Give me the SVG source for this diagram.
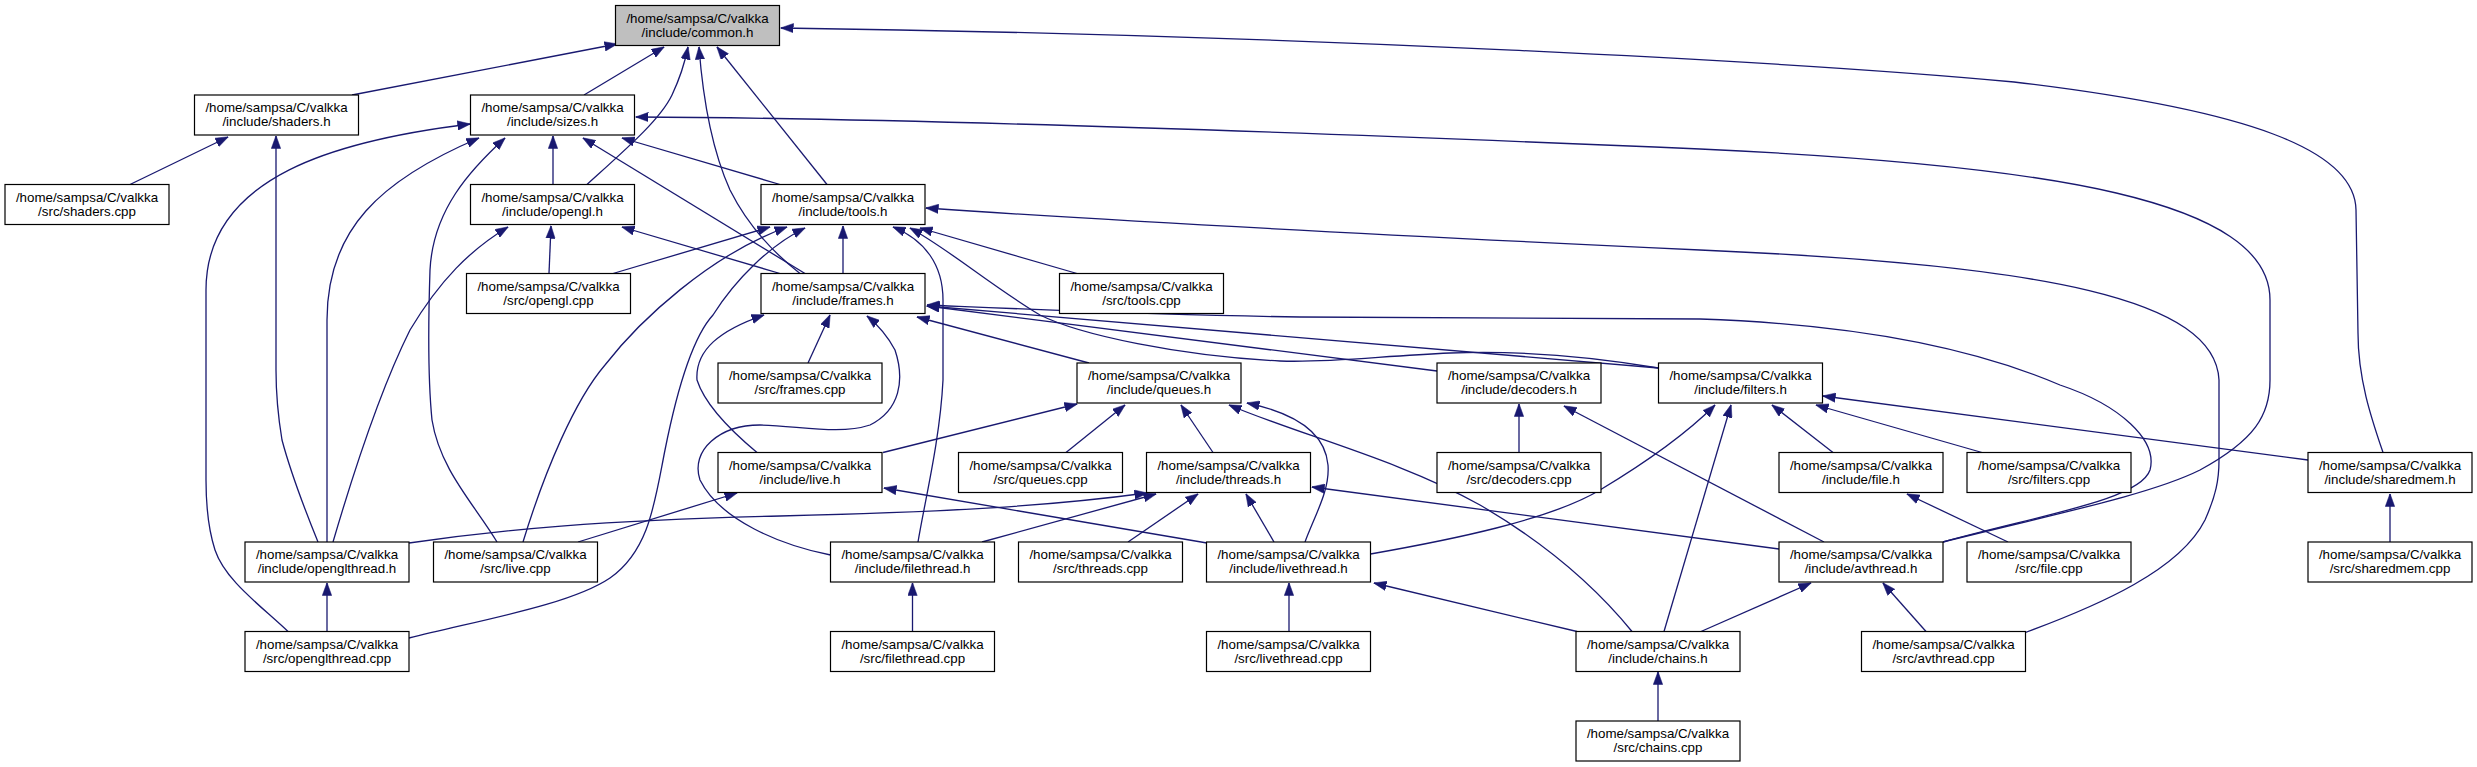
<svg xmlns="http://www.w3.org/2000/svg" width="2477" height="767" viewBox="0 0 2477 767">
<style>
.n rect{fill:#ffffff;stroke:#000000;stroke-width:1.2}
.root rect{fill:#bfbfbf}
.n text{font-family:"Liberation Sans",Arial,sans-serif;font-size:13.33px;fill:#000000;text-anchor:middle}
.e path{fill:none;stroke:#191970;stroke-width:1.3;marker-end:url(#ah)}
</style>
<defs>
<marker id="ah" markerUnits="userSpaceOnUse" markerWidth="13" markerHeight="10" viewBox="0 0 13 9.4" refX="12.5" refY="4.7" orient="auto">
<path d="M0,0 L13,4.7 L0,9.4 z" fill="#191970" stroke="#191970" stroke-width="0.5"/>
</marker>
</defs>
<rect x="0" y="0" width="2477" height="767" fill="#ffffff"/>
<g id="connectors" class="e">
<path d="M352,95 L617,44"/>
<path d="M584,95 L664,47"/>
<path d="M587,184.5 C625,150 660,120 672,95 C680,78 685,62 688,47"/>
<path d="M800,273.5 C770,250 745,220 730,190 C712,150 703,100 699,47"/>
<path d="M827,184.5 L717,47"/>
<path d="M2383,452.5 C2372,420 2358,380 2358,333 L2356,210 C2355,150 2250,110 2014,82 C1800,62 1300,35 781,28"/>
<path d="M553,184.5 L553,136"/>
<path d="M288,631.5 C260,605 225,580 215,550 C207,525 206,500 206,480 L206,290 C206,175 340,140 470,124"/>
<path d="M327,542 L327,320 C327,230 380,180 479,138"/>
<path d="M497,542 C475,505 440,470 432,420 C428,380 428,330 430,270 C433,210 470,170 505,138"/>
<path d="M805,273.5 L583,138"/>
<path d="M780,184.5 L622,138"/>
<path d="M1943,542 C2050,515 2150,495 2200,470 C2255,440 2270,415 2270,380 L2270,300 C2270,200 2050,165 1700,149 C1300,132 900,118 636,117"/>
<path d="M130,184.5 L228,137"/>
<path d="M318,542 C305,510 290,470 282,440 C277,410 276,390 276,370 L276,136"/>
<path d="M549,273.5 L551,226"/>
<path d="M333,542 C360,450 385,380 410,330 C440,280 470,250 508,227"/>
<path d="M780,273.5 L622,227"/>
<path d="M843,273.5 L843,226"/>
<path d="M1077,273.5 L920,228"/>
<path d="M613,273.5 L770,227"/>
<path d="M523,542 C545,470 575,400 605,365 C640,320 710,255 787,227"/>
<path d="M409,638 C480,620 570,605 610,578 C650,550 655,500 665,450 C675,400 690,340 713,315 C735,280 770,245 805,228"/>
<path d="M918,542 C925,500 940,440 943,380 L943,300 C943,265 925,240 893,227"/>
<path d="M2024,633 C2100,605 2180,570 2205,520 C2216,495 2219,480 2219,460 L2219,380 C2215,300 2050,265 1700,250 C1400,236 1100,220 926,208"/>
<path d="M808,363 L830,315"/>
<path d="M1089,363 L917,317"/>
<path d="M1437,371 L927,306"/>
<path d="M1658.5,368 L927,306"/>
<path d="M1943,542 C2040,515 2140,500 2150,470 C2158,440 2120,405 2060,385 C1990,355 1880,325 1700,319 L1300,317 C1150,315 1000,308 927,305"/>
<path d="M757,452.5 C730,430 705,405 697,380 C695,350 720,330 764,315"/>
<path d="M830.5,555 C780,545 720,520 700,480 C690,450 720,425 760,425 C800,426 840,435 870,425 C900,410 905,380 895,350 C887,335 878,325 867,316"/>
<path d="M883,452.5 L1077,404"/>
<path d="M1066,452.5 L1125,405"/>
<path d="M1213,452.5 L1181,405"/>
<path d="M1632,631.5 C1590,580 1540,540 1480,505 C1400,460 1300,435 1229,405"/>
<path d="M1305,542 C1315,515 1330,490 1328,465 C1325,430 1290,412 1247,403"/>
<path d="M409,543 C500,530 600,520 780,516 C950,512 1050,506 1147,493"/>
<path d="M982,542 L1156,494"/>
<path d="M1128,542 L1198,494"/>
<path d="M1274,542 L1246,494"/>
<path d="M1779,549 L1312,487"/>
<path d="M578,542 L737,493"/>
<path d="M1207,543 L884,488"/>
<path d="M1519,452.5 L1519,404"/>
<path d="M1824,542 L1564,406"/>
<path d="M1370.5,554 C1450,540 1550,520 1600,490 C1650,460 1690,430 1715,405"/>
<path d="M1664,631.5 L1731,405"/>
<path d="M1833,452.5 L1772,405"/>
<path d="M1982,452.5 L1816,405"/>
<path d="M2308,460 L1823,396"/>
<path d="M1658.5,368 C1600,358 1530,350 1450,353 C1380,356 1330,363 1280,361 C1180,356 1080,335 1040,315 C990,285 950,250 910,228"/>
<path d="M2008,542 L1907,494"/>
<path d="M2390,542 L2390,494"/>
<path d="M1701,631.5 L1811,583"/>
<path d="M1926,631.5 L1883,583"/>
<path d="M1289,631.5 L1289,583"/>
<path d="M1577,631.5 L1374,583"/>
<path d="M912.5,631.5 L912.5,583"/>
<path d="M1658,721 L1658,672"/>
<path d="M327,631.5 L327,583"/>
</g>
<g id="common_h" class="n root" transform="translate(615.5,5.5)"><rect width="164" height="40"/><text x="82" y="17">/home/sampsa/C/valkka</text><text x="82" y="31">/include/common.h</text></g>
<g id="shaders_h" class="n" transform="translate(194.5,95)"><rect width="164" height="40"/><text x="82" y="17">/home/sampsa/C/valkka</text><text x="82" y="31">/include/shaders.h</text></g>
<g id="sizes_h" class="n" transform="translate(470.5,95)"><rect width="164" height="40"/><text x="82" y="17">/home/sampsa/C/valkka</text><text x="82" y="31">/include/sizes.h</text></g>
<g id="shaders_cpp" class="n" transform="translate(5,184.5)"><rect width="164" height="40"/><text x="82" y="17">/home/sampsa/C/valkka</text><text x="82" y="31">/src/shaders.cpp</text></g>
<g id="opengl_h" class="n" transform="translate(470.5,184.5)"><rect width="164" height="40"/><text x="82" y="17">/home/sampsa/C/valkka</text><text x="82" y="31">/include/opengl.h</text></g>
<g id="tools_h" class="n" transform="translate(761,184.5)"><rect width="164" height="40"/><text x="82" y="17">/home/sampsa/C/valkka</text><text x="82" y="31">/include/tools.h</text></g>
<g id="opengl_cpp" class="n" transform="translate(466.5,273.5)"><rect width="164" height="40"/><text x="82" y="17">/home/sampsa/C/valkka</text><text x="82" y="31">/src/opengl.cpp</text></g>
<g id="frames_h" class="n" transform="translate(761,273.5)"><rect width="164" height="40"/><text x="82" y="17">/home/sampsa/C/valkka</text><text x="82" y="31">/include/frames.h</text></g>
<g id="tools_cpp" class="n" transform="translate(1059.5,273.5)"><rect width="164" height="40"/><text x="82" y="17">/home/sampsa/C/valkka</text><text x="82" y="31">/src/tools.cpp</text></g>
<g id="frames_cpp" class="n" transform="translate(718,363)"><rect width="164" height="40"/><text x="82" y="17">/home/sampsa/C/valkka</text><text x="82" y="31">/src/frames.cpp</text></g>
<g id="queues_h" class="n" transform="translate(1077,363)"><rect width="164" height="40"/><text x="82" y="17">/home/sampsa/C/valkka</text><text x="82" y="31">/include/queues.h</text></g>
<g id="decoders_h" class="n" transform="translate(1437,363)"><rect width="164" height="40"/><text x="82" y="17">/home/sampsa/C/valkka</text><text x="82" y="31">/include/decoders.h</text></g>
<g id="filters_h" class="n" transform="translate(1658.5,363)"><rect width="164" height="40"/><text x="82" y="17">/home/sampsa/C/valkka</text><text x="82" y="31">/include/filters.h</text></g>
<g id="live_h" class="n" transform="translate(718,452.5)"><rect width="164" height="40"/><text x="82" y="17">/home/sampsa/C/valkka</text><text x="82" y="31">/include/live.h</text></g>
<g id="queues_cpp" class="n" transform="translate(958.5,452.5)"><rect width="164" height="40"/><text x="82" y="17">/home/sampsa/C/valkka</text><text x="82" y="31">/src/queues.cpp</text></g>
<g id="threads_h" class="n" transform="translate(1146.5,452.5)"><rect width="164" height="40"/><text x="82" y="17">/home/sampsa/C/valkka</text><text x="82" y="31">/include/threads.h</text></g>
<g id="decoders_cpp" class="n" transform="translate(1437,452.5)"><rect width="164" height="40"/><text x="82" y="17">/home/sampsa/C/valkka</text><text x="82" y="31">/src/decoders.cpp</text></g>
<g id="file_h" class="n" transform="translate(1779,452.5)"><rect width="164" height="40"/><text x="82" y="17">/home/sampsa/C/valkka</text><text x="82" y="31">/include/file.h</text></g>
<g id="filters_cpp" class="n" transform="translate(1967,452.5)"><rect width="164" height="40"/><text x="82" y="17">/home/sampsa/C/valkka</text><text x="82" y="31">/src/filters.cpp</text></g>
<g id="sharedmem_h" class="n" transform="translate(2308,452.5)"><rect width="164" height="40"/><text x="82" y="17">/home/sampsa/C/valkka</text><text x="82" y="31">/include/sharedmem.h</text></g>
<g id="openglthread_h" class="n" transform="translate(245,542)"><rect width="164" height="40"/><text x="82" y="17">/home/sampsa/C/valkka</text><text x="82" y="31">/include/openglthread.h</text></g>
<g id="live_cpp" class="n" transform="translate(433.5,542)"><rect width="164" height="40"/><text x="82" y="17">/home/sampsa/C/valkka</text><text x="82" y="31">/src/live.cpp</text></g>
<g id="filethread_h" class="n" transform="translate(830.5,542)"><rect width="164" height="40"/><text x="82" y="17">/home/sampsa/C/valkka</text><text x="82" y="31">/include/filethread.h</text></g>
<g id="threads_cpp" class="n" transform="translate(1018.5,542)"><rect width="164" height="40"/><text x="82" y="17">/home/sampsa/C/valkka</text><text x="82" y="31">/src/threads.cpp</text></g>
<g id="livethread_h" class="n" transform="translate(1206.5,542)"><rect width="164" height="40"/><text x="82" y="17">/home/sampsa/C/valkka</text><text x="82" y="31">/include/livethread.h</text></g>
<g id="avthread_h" class="n" transform="translate(1779,542)"><rect width="164" height="40"/><text x="82" y="17">/home/sampsa/C/valkka</text><text x="82" y="31">/include/avthread.h</text></g>
<g id="file_cpp" class="n" transform="translate(1967,542)"><rect width="164" height="40"/><text x="82" y="17">/home/sampsa/C/valkka</text><text x="82" y="31">/src/file.cpp</text></g>
<g id="sharedmem_cpp" class="n" transform="translate(2308,542)"><rect width="164" height="40"/><text x="82" y="17">/home/sampsa/C/valkka</text><text x="82" y="31">/src/sharedmem.cpp</text></g>
<g id="openglthread_cpp" class="n" transform="translate(245,631.5)"><rect width="164" height="40"/><text x="82" y="17">/home/sampsa/C/valkka</text><text x="82" y="31">/src/openglthread.cpp</text></g>
<g id="filethread_cpp" class="n" transform="translate(830.5,631.5)"><rect width="164" height="40"/><text x="82" y="17">/home/sampsa/C/valkka</text><text x="82" y="31">/src/filethread.cpp</text></g>
<g id="livethread_cpp" class="n" transform="translate(1206.5,631.5)"><rect width="164" height="40"/><text x="82" y="17">/home/sampsa/C/valkka</text><text x="82" y="31">/src/livethread.cpp</text></g>
<g id="chains_h" class="n" transform="translate(1576,631.5)"><rect width="164" height="40"/><text x="82" y="17">/home/sampsa/C/valkka</text><text x="82" y="31">/include/chains.h</text></g>
<g id="avthread_cpp" class="n" transform="translate(1861.5,631.5)"><rect width="164" height="40"/><text x="82" y="17">/home/sampsa/C/valkka</text><text x="82" y="31">/src/avthread.cpp</text></g>
<g id="chains_cpp" class="n" transform="translate(1576,721)"><rect width="164" height="40"/><text x="82" y="17">/home/sampsa/C/valkka</text><text x="82" y="31">/src/chains.cpp</text></g>
</svg>
